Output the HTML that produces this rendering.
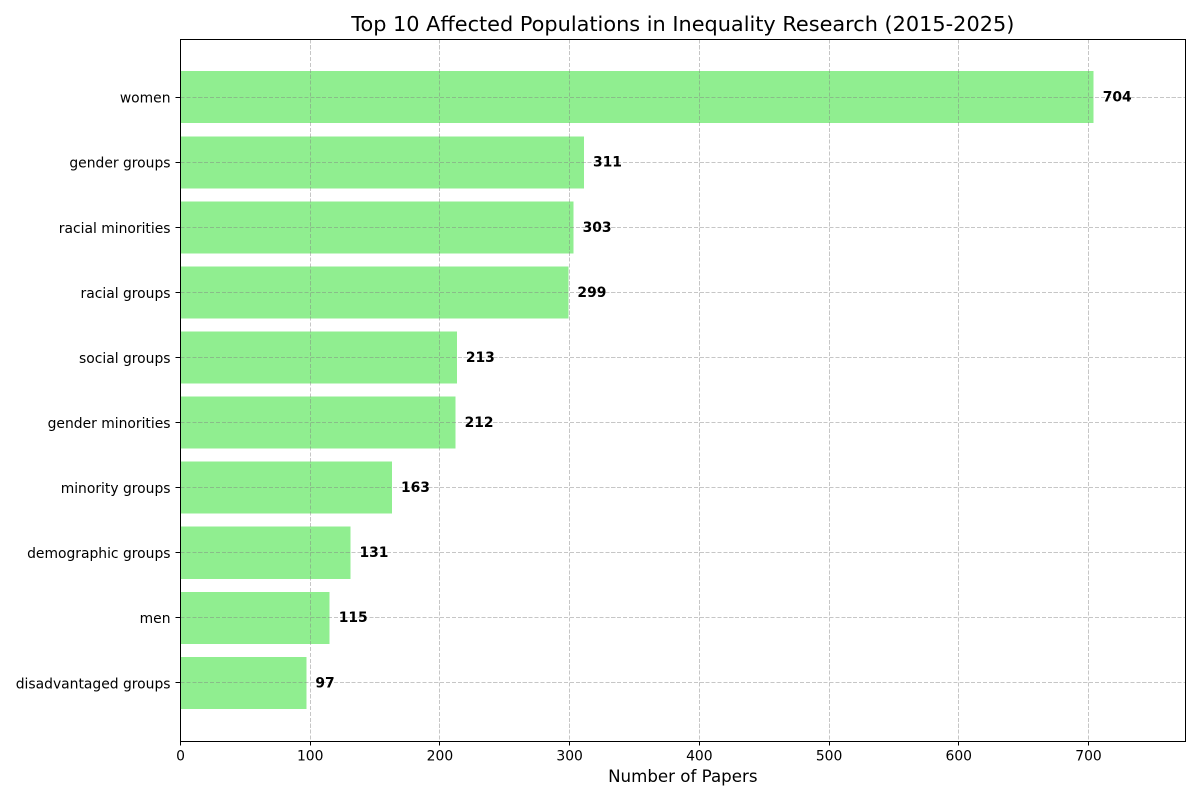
<!DOCTYPE html>
<html lang="en">
<head>
<meta charset="utf-8">
<title>Top 10 Affected Populations in Inequality Research (2015-2025)</title>
<style>
html,body{margin:0;padding:0;background:#fff;}
svg{display:block;font-family:"DejaVu Sans",sans-serif;}
</style>
</head>
<body>
<svg id="chart" xmlns="http://www.w3.org/2000/svg" width="1200" height="800" viewBox="0 0 1200 800">
  <rect x="0" y="0" width="1200" height="800" fill="#ffffff"/>
  <g id="bars" shape-rendering="crispEdges"></g>
  <g id="grid" shape-rendering="crispEdges"></g>
  <g id="values"></g>
  <rect x="180.5" y="39.5" width="1005" height="702" fill="none" stroke="#000" stroke-width="1" shape-rendering="crispEdges"/>
  <g id="xticks"></g>
  <g id="yticks"></g>
  <text x="682.8" y="31" text-anchor="middle" font-size="20.83" fill="#000">Top 10 Affected Populations in Inequality Research (2015-2025)</text>
  <text x="682.8" y="782" text-anchor="middle" font-size="16.67" fill="#000">Number of Papers</text>
</svg>
<script>
const categories = ["women","gender groups","racial minorities","racial groups","social groups","gender minorities","minority groups","demographic groups","men","disadvantaged groups"];
const paperCounts = [704,311,303,299,213,212,163,131,115,97];
const xTickValues = [0,100,200,300,400,500,600,700];

const NS = "http://www.w3.org/2000/svg";
const plot = {left:180.5, right:1185, top:39.3, bottom:740.8};
const xMax = Math.max(...paperCounts) * 1.1;
const yMin = -0.89, yMax = categories.length - 1 + 0.89;
const xScale = v => plot.left + (v / xMax) * (plot.right - plot.left);
const yScale = i => plot.top + ((i - yMin) / (yMax - yMin)) * (plot.bottom - plot.top);
const snap = p => Math.floor(p) + 0.5;
const BAR_HEIGHT = 0.8;

function make(tag, attrs, parent, text) {
  const el = document.createElementNS(NS, tag);
  for (const k in attrs) el.setAttribute(k, attrs[k]);
  if (text !== undefined) el.textContent = text;
  parent.appendChild(el);
  return el;
}

const gBars = document.getElementById("bars");
const gGrid = document.getElementById("grid");
const gValues = document.getElementById("values");
const gX = document.getElementById("xticks");
const gY = document.getElementById("yticks");
const gridStyle = {stroke:"#808080", "stroke-opacity":"0.45", "stroke-width":"1", "stroke-dasharray":"4.1 1.8", fill:"none"};

categories.forEach((cat, i) => {
  const y = yScale(i);
  const bh = yScale(i + BAR_HEIGHT / 2) - yScale(i - BAR_HEIGHT / 2);
  const bar = make("rect", {x:xScale(0), y:y - bh / 2, width:xScale(paperCounts[i]) - xScale(0), height:bh, fill:"#90ee90"}, gBars);
  
  

  const gl = make("line", Object.assign({x1:plot.left, x2:plot.right, y1:snap(y), y2:snap(y)}, gridStyle), gGrid);
  
  

  const val = make("text", {x:xScale(paperCounts[i] + 7), y:y + 4.4, "font-size":"13.89", "font-weight":"bold", fill:"#000"}, gValues, String(paperCounts[i]));
  
  

  const tick = make("line", {x1:plot.left - 4.9, x2:plot.left, y1:snap(y), y2:snap(y), stroke:"#000", "stroke-width":"1", "shape-rendering":"crispEdges"}, gY);
  
  

  const lab = make("text", {x:plot.left - 10, y:y + 5.4, "text-anchor":"end", "font-size":"13.89", fill:"#000"}, gY, cat);
  
  
});

xTickValues.forEach(v => {
  const x = xScale(v);
  const gl = make("line", Object.assign({x1:snap(x), x2:snap(x), y1:plot.top, y2:plot.bottom}, gridStyle), gGrid);
  
  

  const tick = make("line", {x1:snap(x), x2:snap(x), y1:plot.bottom, y2:plot.bottom + 4.9, stroke:"#000", "stroke-width":"1", "shape-rendering":"crispEdges"}, gX);
  
  

  const lab = make("text", {x:x, y:plot.bottom + 19.7, "text-anchor":"middle", "font-size":"13.89", fill:"#000"}, gX, String(v));
  
  
});
</script>
</body>
</html>
